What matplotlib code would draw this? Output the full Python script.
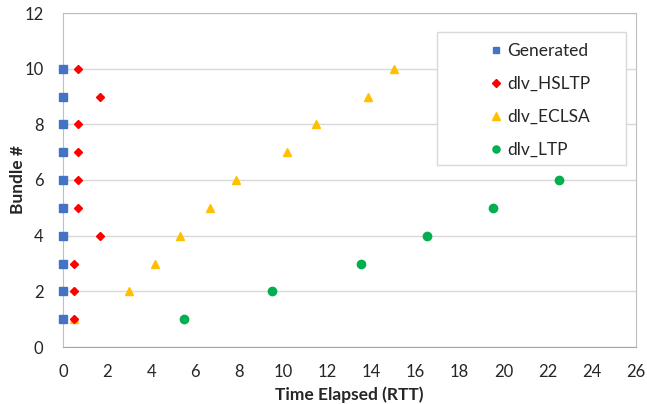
import matplotlib
matplotlib.use("Agg")
import matplotlib.pyplot as plt
from matplotlib.patches import Rectangle

plt.rcParams['font.family'] = ['Lato', 'DejaVu Sans']

bundles = [1, 2, 3, 4, 5, 6, 7, 8, 9, 10]
generated_t = [0, 0, 0, 0, 0, 0, 0, 0, 0, 0]
hsltp_t = [0.5, 0.5, 0.5, 1.67, 0.67, 0.67, 0.67, 0.67, 1.67, 0.67]
eclsa_t = [0.5, 3.0, 4.17, 5.33, 6.67, 7.83, 10.17, 11.5, 13.83, 15.0]
ltp_bundles = [1, 2, 3, 4, 5, 6]
ltp_t = [5.5, 9.5, 13.5, 16.5, 19.5, 22.5]

xticks = list(range(0, 27, 2))
yticks = list(range(0, 13, 2))

fig = plt.figure(figsize=(6.47, 4.04), dpi=100)
ax = fig.add_axes([63/647, 1-347/404, (636-63)/647, (347-13)/404])

ax.plot(generated_t, bundles, 's', color='#4472C4', ms=5.8, label='Generated', clip_on=False, zorder=5)
ax.plot(hsltp_t, bundles, 'D', color='#FF0000', ms=4.5, label='dlv_HSLTP', clip_on=False, zorder=6)
ax.plot(eclsa_t, bundles, '^', color='#FFC000', ms=6, label='dlv_ECLSA', clip_on=False, zorder=5)
ax.plot(ltp_t, ltp_bundles, 'o', color='#00B050', ms=6, label='dlv_LTP', clip_on=False, zorder=5)

ax.set_xlim(0, 26)
ax.set_ylim(0, 12)
ax.set_xticks(xticks)
ax.set_yticks(yticks)
ax.tick_params(length=0, labelsize=12, colors='#262626')
ax.tick_params(axis='y', pad=14)
ax.tick_params(axis='x', pad=12)
ax.yaxis.grid(True, color='#D9D9D9', lw=1)
ax.set_axisbelow(True)
for s in ['top', 'right', 'left']:
    ax.spines[s].set_color('#BFBFBF')
ax.spines['bottom'].set_color('#A6A6A6')

ax.set_xlabel('Time Elapsed (RTT)', fontsize=12.5, fontweight='bold', color='#262626', labelpad=5)
ax.set_ylabel('Bundle #', fontsize=12.5, fontweight='bold', color='#262626', labelpad=-1)

rect = Rectangle((437/647, 1-165/404), (626-437)/647, (165-32)/404, transform=fig.transFigure,
                 facecolor='white', edgecolor='#D9D9D9', lw=1, zorder=10, clip_on=False)
ax.add_patch(rect)

leg = ax.legend(loc='upper left', bbox_to_anchor=(487.5/647, 1-43/404), bbox_transform=fig.transFigure,
                frameon=False, fontsize=12.5, handlelength=1, handletextpad=0.15, labelspacing=0.98,
                borderpad=0, borderaxespad=0, markerscale=0.85)
leg.set_zorder(20)
for t in leg.get_texts():
    t.set_color('#262626')

fig.savefig('out.png', dpi=100)
